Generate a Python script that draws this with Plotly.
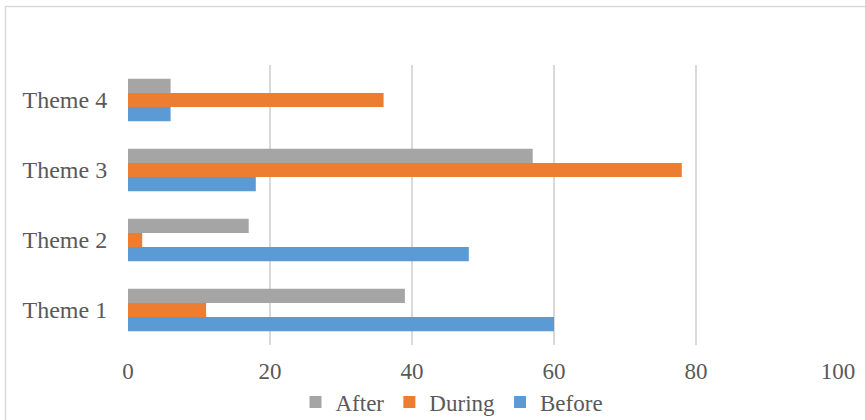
import plotly.graph_objects as go

themes = ["Theme 1", "Theme 2", "Theme 3", "Theme 4"]
before = [60, 48, 18, 6]
during = [11, 2, 78, 36]
after = [39, 17, 57, 6]
x_ticks = [0, 20, 40, 60, 80, 100]

FONT = "Liberation Serif, Times New Roman, serif"
GRAY = "#595959"

fig = go.Figure()
fig.add_trace(go.Bar(y=themes, x=before, name="Before", orientation="h",
                     marker=dict(color="#5B9BD5", line=dict(width=0))))
fig.add_trace(go.Bar(y=themes, x=during, name="During", orientation="h",
                     marker=dict(color="#ED7D31", line=dict(width=0))))
fig.add_trace(go.Bar(y=themes, x=after, name="After", orientation="h",
                     marker=dict(color="#A5A5A5", line=dict(width=0))))

L, R, T, B = 128, 27, 65, 75
W, H = 865, 420
pw, ph = W - L - R, H - T - B

fig.update_layout(
    width=W, height=H,
    margin=dict(l=L, r=R, t=T, b=B, pad=0, autoexpand=False),
    barmode="group", bargap=0.39, bargroupgap=0,
    plot_bgcolor="white", paper_bgcolor="white",
    font=dict(family=FONT, size=23, color=GRAY),
    showlegend=True,
    legend=dict(orientation="h", traceorder="reversed",
                x=(452 - L) / pw, xanchor="center",
                y=(T + ph - 402) / ph, yanchor="middle",
                font=dict(family=FONT, size=23, color=GRAY),
                itemwidth=30, itemsizing="constant",
                bgcolor="rgba(0,0,0,0)"),
    xaxis=dict(range=[0, 100], tickvals=x_ticks, showgrid=True,
               gridcolor="#D9D9D9", gridwidth=1.5, zeroline=False,
               showline=False, ticks="outside", ticklen=5,
               tickcolor="rgba(0,0,0,0)", fixedrange=True, automargin=False,
               tickfont=dict(size=23)),
    yaxis=dict(showgrid=False, zeroline=False, showline=False,
               ticks="outside", ticklen=15, tickcolor="rgba(0,0,0,0)",
               automargin=False, tickfont=dict(size=24), fixedrange=True),
    shapes=[dict(type="rect", xref="paper", yref="paper",
                 x0=(5.5 - L) / pw, x1=2.0,
                 y0=-1.0, y1=(T + ph - 6.5) / ph,
                 line=dict(color="#D9D9D9", width=1.5),
                 fillcolor="rgba(0,0,0,0)", layer="below")],
)

fig.write_html("out.html",
               config={"displayModeBar": False},
               post_script="document.body.style.margin='0';document.body.style.overflow='hidden';")
